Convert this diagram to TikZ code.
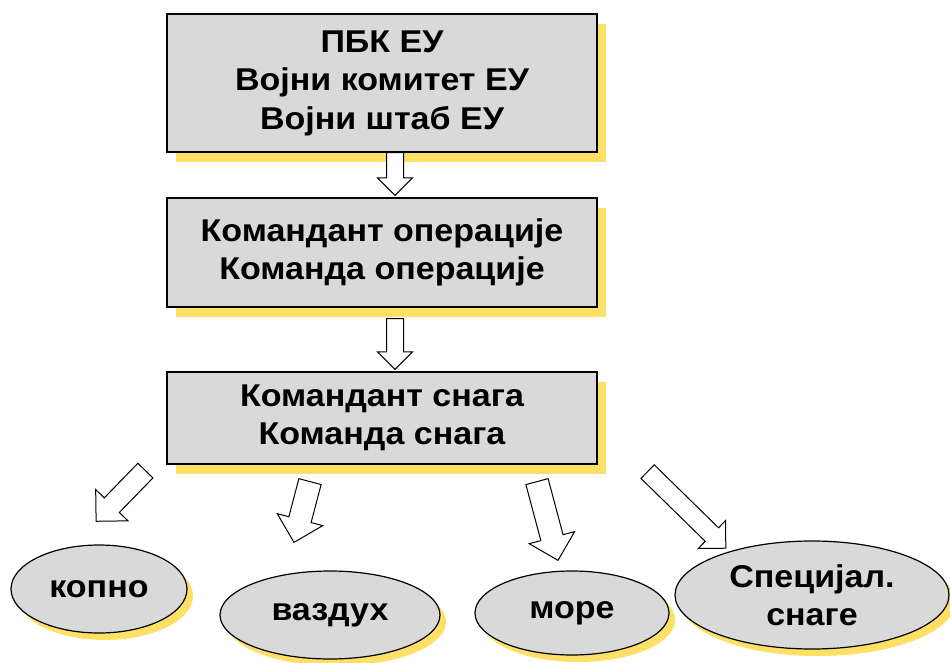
\documentclass[tikz,border=0pt]{standalone}
\usepackage{fontspec}
\setmainfont{Liberation Sans}[FakeStretch=1.08]
\usepackage{tikz}
\usetikzlibrary{shapes.geometric, shapes.arrows, shadows, calc, positioning}

\definecolor{boxgray}{RGB}{217,217,217}
\definecolor{shadowyellow}{RGB}{255,224,102}

% hollow block arrow from one point to another
\newcommand{\blockarrow}[3][]{%
  \path let \p1=($(#3)-(#2)$), \n1={veclen(\x1,\y1)}, \n2={atan2(\y1,\x1)} in
    node[arrow style, #1, minimum height=\n1, rotate=\n2, anchor=tail] at (#2) {};}

\begin{document}
\begin{tikzpicture}[x=1pt, y=-1pt, font=\fontsize{31.5}{38.5}\selectfont\bfseries]
        % Setup the styles
        \tikzset{box style/.style={rectangle, draw, line width=1.2pt,
                                   fill=boxgray, align=center,
                                   minimum width=430pt,
                                   drop shadow={shadow xshift=9pt, shadow yshift=-10pt,
                                                fill=shadowyellow, opacity=1}},
                 oval style/.style={ellipse, draw, line width=1.2pt,
                                    fill=boxgray, align=center, inner sep=0pt,
                                    drop shadow={shadow xshift=6pt, shadow yshift=-7pt,
                                                 fill=shadowyellow, opacity=1}},
                 arrow style/.style={single arrow, draw, fill=white, line width=1pt,
                                     inner xsep=0pt, inner ysep=8pt, outer sep=0pt,
                                     text height=0pt, text depth=0pt,
                                     minimum width=34pt, single arrow head extend=9pt,
                                     single arrow tip angle=90, single arrow head indent=0pt},
                 big arrow/.style={inner ysep=11pt, minimum width=46pt,
                                   single arrow head extend=12pt}}
        \useasboundingbox (0,0) rectangle (950,663);

        % Draw the boxes
        \node[box style, minimum height=138pt] at (382,83) (pbk)
             {ПБК ЕУ\\Војни комитет ЕУ\\Војни штаб ЕУ};
        \node[box style, minimum height=109pt] at (382,252.5) (komop)
             {Командант операције\\Команда операције};
        \node[box style, minimum height=92pt] at (382,418) (komsn)
             {Командант снага\\Команда снага};

        % Draw the ovals
        \node[oval style, minimum width=176pt, minimum height=88pt] at (99,589) (kopno) {копно};
        \node[oval style, minimum width=220pt, minimum height=88pt] at (330,615) (vazduh) {ваздух};
        \node[oval style, minimum width=194pt, minimum height=84pt] at (572,613) (more) {море};
        \node[oval style, minimum width=274pt, minimum height=108pt] at (812,595) (spec)
             {Специјал.\\снаге};

        % Arrow ends
        \coordinate (pbk tail)    at ($(pbk.south)+(13,0)$);
        \coordinate (komop head)  at ($(komop.north)+(13,-2)$);
        \coordinate (komop tail)  at ($(komop.south)+(13,11)$);
        \coordinate (komsn head)  at ($(komsn.north)+(13,-2)$);
        \coordinate (kopno tail)  at ($(komsn.south west)+(-21,6)$);
        \coordinate (kopno head)  at ($(kopno.north)+(-3,-23)$);
        \coordinate (vazduh tail) at ($(komsn.south)+(-72,17)$);
        \coordinate (vazduh head) at ($(vazduh.north)+(-36,-28)$);
        \coordinate (more tail)   at ($(komsn.south)+(155,17)$);
        \coordinate (more head)   at ($(more.north)+(-14,-10)$);
        \coordinate (spec tail)   at ($(komsn.south east)+(50,7)$);
        \coordinate (spec head)   at ($(spec.north)+(-86,8)$);

        % Connect the boxes with arrows
        \blockarrow{pbk tail}{komop head}
        \blockarrow{komop tail}{komsn head}
        \blockarrow[inner ysep=10pt, minimum width=44pt, single arrow head extend=12pt]{kopno tail}{kopno head}
        \blockarrow[big arrow]{vazduh tail}{vazduh head}
        \blockarrow[big arrow]{more tail}{more head}
        \blockarrow[inner ysep=9pt, minimum width=38pt, single arrow head extend=10pt]{spec tail}{spec head}
\end{tikzpicture}
\end{document}
